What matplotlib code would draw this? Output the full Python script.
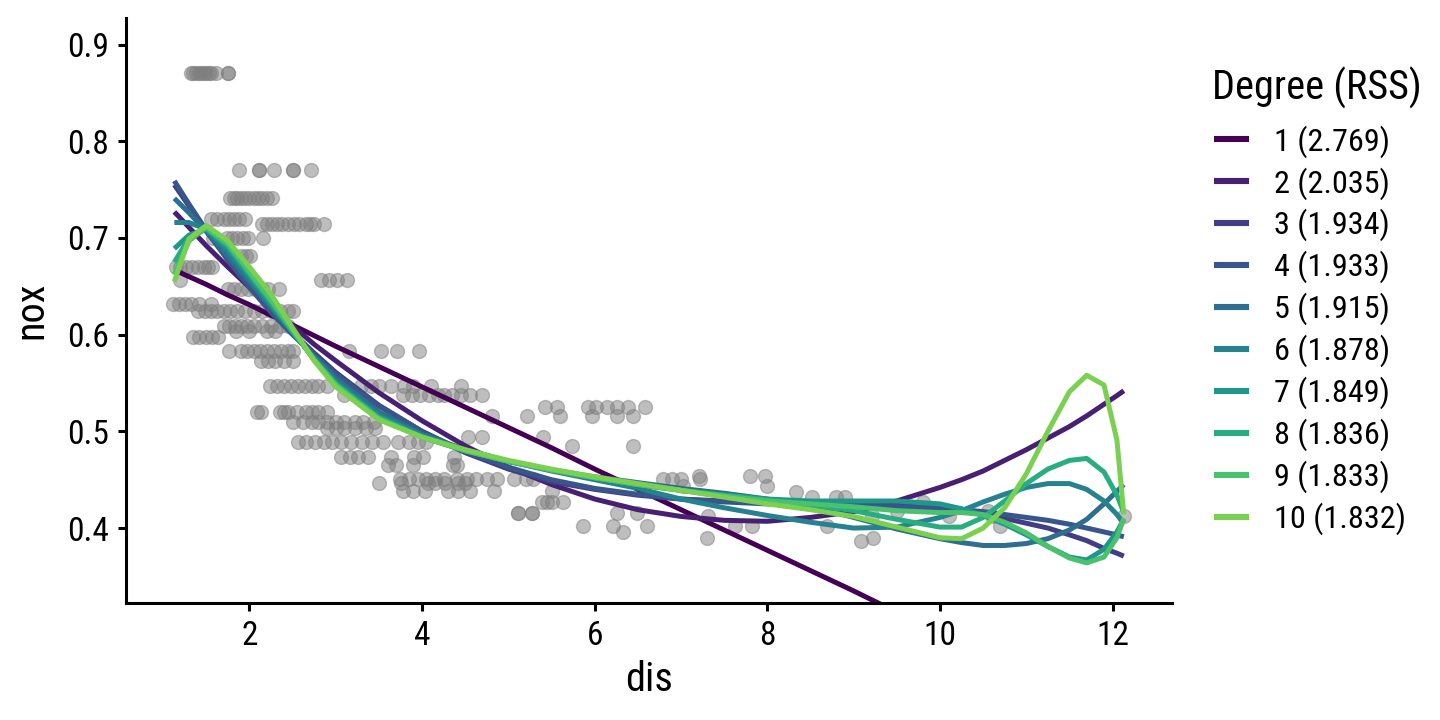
import matplotlib
matplotlib.use("Agg")
import matplotlib.pyplot as plt
from matplotlib import font_manager
import numpy as np

# ---------------------------------------------------------------- data ----
# scatter: nox rows (Boston data) and their dis values
row_nox = [0.871, 0.770, 0.741, 0.720, 0.714, 0.700, 0.681, 0.670, 0.657,
           0.647, 0.632, 0.624, 0.609, 0.604, 0.598, 0.583, 0.573, 0.547,
           0.538, 0.525, 0.520, 0.516, 0.510, 0.503, 0.494, 0.489, 0.485,
           0.473, 0.465, 0.451, 0.447, 0.438, 0.454, 0.444, 0.437, 0.432,
           0.427, 0.416, 0.412, 0.418, 0.402, 0.396, 0.390, 0.387]
row_dis = [
    [1.32, 1.35, 1.38, 1.41, 1.44, 1.47, 1.50, 1.53, 1.56, 1.61, 1.75, 1.75],
    [1.88, 2.11, 2.11, 2.28, 2.50, 2.50, 2.71],
    [1.78, 1.82, 1.86, 1.90, 1.95, 2.00, 2.05, 2.10, 2.14, 2.20, 2.26],
    [1.55, 1.62, 1.70, 1.76, 1.82, 1.88, 1.95],
    [2.14, 2.20, 2.26, 2.32, 2.38, 2.45, 2.52, 2.58, 2.65, 2.70, 2.75, 2.86],
    [1.58, 1.74, 1.80, 1.86, 1.92, 1.98, 2.16],
    [1.90, 1.96, 2.01],
    [1.15, 1.20, 1.27, 1.33, 1.40, 1.47, 1.52, 1.57],
    [1.20, 2.83, 2.92, 3.02, 3.13],
    [1.75, 1.82, 1.90, 1.98, 2.06, 2.14, 2.22, 2.34],
    [1.12, 1.18, 1.25, 1.32, 1.42, 1.55],
    [1.40, 1.48, 1.55, 1.62, 1.70, 1.78, 1.86, 1.95, 2.05, 2.15, 2.25, 2.35,
     2.45, 2.51],
    [1.70, 1.76, 1.83, 1.90, 1.97, 2.05, 2.15, 2.25, 2.35, 2.45],
    [1.85, 2.00, 2.20, 2.30],
    [1.35, 1.42, 1.50, 1.57, 1.64],
    [1.76, 1.90, 1.97, 2.05, 2.12, 2.20, 2.28, 2.36, 2.45, 2.51, 3.15, 3.53,
     3.71, 3.97],
    [2.13, 2.22, 2.30, 2.40, 2.50],
    [2.24, 2.32, 2.40, 2.48, 2.56, 2.64, 2.72, 2.80, 2.90, 3.29, 3.41, 3.50,
     3.64, 3.79, 3.90, 4.10, 4.45],
    [3.09, 3.78, 3.88, 3.98, 4.08, 4.18, 4.25, 4.35, 4.45, 4.55, 4.70],
    [5.42, 5.56, 5.92, 6.02, 6.14, 6.26, 6.38, 6.58],
    [2.09, 2.13, 2.35, 2.40, 2.45, 2.55, 2.65, 2.72, 2.80, 2.90],
    [4.81, 5.21, 5.60, 5.97, 6.26, 6.44],
    [2.51, 2.62, 2.72, 2.80, 2.90, 3.00, 3.10, 3.22, 3.32, 3.44],
    [2.90, 3.00, 3.10, 3.22, 3.35, 3.45],
    [4.53, 4.70, 5.40],
    [2.56, 2.66, 2.76, 2.86, 2.96, 3.06, 3.18, 3.30, 3.42, 3.55, 3.72, 3.85,
     3.95, 4.05],
    [5.74, 6.44],
    [3.06, 3.16, 3.26, 3.37, 3.64, 3.91, 4.01, 4.37],
    [3.60, 3.70, 3.89, 4.36, 4.41],
    [3.74, 3.85, 3.95, 4.05, 4.15, 4.25, 4.40, 4.52, 4.62, 4.75, 4.87, 5.07,
     5.20, 5.28, 6.79, 6.90, 7.00, 7.22],
    [3.50, 3.76, 4.07, 4.15, 4.26, 4.42, 4.50],
    [3.78, 3.90, 4.03, 4.30, 4.42, 4.55, 4.83, 5.50],
    [7.21, 7.80, 7.97],
    [7.02, 8.00],
    [8.33],
    [8.52, 8.79, 8.90],
    [5.39, 5.45, 5.50, 5.63, 9.80],
    [5.11, 5.11, 5.27, 5.27, 6.26, 6.49],
    [7.31, 9.21, 10.10, 10.60, 12.13],
    [10.56, 9.50],
    [5.86, 6.21, 6.61, 7.63, 7.82, 8.69, 10.70],
    [6.33],
    [7.30, 9.22],
    [9.08],
]

# fitted curves, read at these dis values
fit_dis = [1.13, 1.3, 1.5, 1.75, 2.0, 2.25, 2.5, 2.75, 3.0, 3.5, 4.0, 4.5,
           5.0, 5.5, 6.0, 6.5, 7.0, 7.5, 8.0, 8.5, 9.0, 9.5, 10.0, 10.25,
           10.5, 10.75, 11.0, 11.25, 11.5, 11.7, 11.9, 12.05, 12.13]

deg1 = [0.667, 0.660, 0.652, 0.641, 0.631, 0.620, 0.610, 0.599, 0.588, 0.567,
        0.546, 0.525, 0.504, 0.483, 0.461, 0.440, 0.419, 0.398, 0.377, 0.356,
        0.335, 0.313, 0.292, 0.282, 0.271, 0.261, 0.250, 0.239, 0.229, 0.220,
        0.212, 0.206, 0.202]
deg2 = [0.727, 0.711, 0.692, 0.670, 0.649, 0.628, 0.609, 0.590, 0.573, 0.540,
        0.511, 0.485, 0.463, 0.445, 0.430, 0.419, 0.412, 0.408, 0.407, 0.411,
        0.417, 0.428, 0.442, 0.450, 0.459, 0.470, 0.481, 0.493, 0.505, 0.516,
        0.528, 0.537, 0.542]
deg3 = [0.755, 0.733, 0.707, 0.678, 0.651, 0.625, 0.602, 0.581, 0.561, 0.527,
        0.500, 0.478, 0.461, 0.448, 0.440, 0.434, 0.430, 0.428, 0.427, 0.426,
        0.426, 0.424, 0.420, 0.418, 0.414, 0.410, 0.405, 0.400, 0.393, 0.387,
        0.379, 0.374, 0.371]
deg4 = [0.759, 0.735, 0.708, 0.677, 0.649, 0.623, 0.600, 0.579, 0.559, 0.526,
        0.500, 0.479, 0.463, 0.450, 0.441, 0.435, 0.430, 0.427, 0.425, 0.424,
        0.423, 0.422, 0.421, 0.419, 0.417, 0.414, 0.411, 0.408, 0.404, 0.400,
        0.396, 0.393, 0.391]
deg5 = [0.741, 0.726, 0.707, 0.681, 0.655, 0.628, 0.602, 0.578, 0.555, 0.520,
        0.497, 0.481, 0.469, 0.460, 0.453, 0.447, 0.441, 0.436, 0.430, 0.422,
        0.411, 0.399, 0.389, 0.385, 0.382, 0.382, 0.384, 0.389, 0.398, 0.409,
        0.425, 0.438, 0.445]
deg6 = [0.716, 0.716, 0.709, 0.686, 0.658, 0.630, 0.602, 0.576, 0.552, 0.517,
        0.496, 0.481, 0.469, 0.459, 0.450, 0.441, 0.430, 0.421, 0.413, 0.406,
        0.400, 0.401, 0.411, 0.418, 0.427, 0.435, 0.442, 0.446, 0.446, 0.440,
        0.428, 0.414, 0.405]
deg7 = [0.689, 0.703, 0.709, 0.690, 0.661, 0.632, 0.603, 0.575, 0.550, 0.515,
        0.495, 0.480, 0.469, 0.460, 0.452, 0.445, 0.439, 0.434, 0.430, 0.428,
        0.428, 0.428, 0.425, 0.420, 0.413, 0.404, 0.393, 0.381, 0.370, 0.367,
        0.378, 0.396, 0.409]
deg8 = [0.675, 0.700, 0.710, 0.692, 0.663, 0.634, 0.604, 0.574, 0.549, 0.514,
        0.494, 0.480, 0.469, 0.460, 0.452, 0.445, 0.439, 0.434, 0.429, 0.424,
        0.418, 0.409, 0.401, 0.401, 0.411, 0.428, 0.446, 0.461, 0.470, 0.472,
        0.458, 0.434, 0.416]
deg9 = [0.662, 0.697, 0.711, 0.694, 0.665, 0.636, 0.605, 0.574, 0.548, 0.513,
        0.494, 0.480, 0.469, 0.460, 0.452, 0.445, 0.439, 0.433, 0.428, 0.425,
        0.422, 0.418, 0.416, 0.416, 0.414, 0.406, 0.395, 0.381, 0.369, 0.364,
        0.370, 0.390, 0.410]
deg10 = [0.655, 0.699, 0.713, 0.697, 0.670, 0.642, 0.607, 0.573, 0.546, 0.512,
         0.494, 0.481, 0.470, 0.461, 0.453, 0.446, 0.439, 0.432, 0.425, 0.419,
         0.412, 0.401, 0.390, 0.389, 0.400, 0.421, 0.456, 0.500, 0.541, 0.558,
         0.548, 0.491, 0.414]

fits = [deg1, deg2, deg3, deg4, deg5, deg6, deg7, deg8, deg9, deg10]
degrees = [1, 2, 3, 4, 5, 6, 7, 8, 9, 10]
rss = ["2.769", "2.035", "1.934", "1.933", "1.915",
       "1.878", "1.849", "1.836", "1.833", "1.832"]

# ---------------------------------------------------------------- font ----
installed = {f.name for f in font_manager.fontManager.ttflist}
family = next((f for f in ["Roboto Condensed", "Liberation Sans Narrow",
                           "Roboto", "DejaVu Sans"] if f in installed))
plt.rcParams["font.family"] = [family, "DejaVu Sans"]

# ---------------------------------------------------------------- plot ----
fig = plt.figure(figsize=(7.2, 3.6), dpi=200)
ax = fig.add_axes([0.0875, 0.1625, 0.7265, 0.8125])

pts_dis = np.concatenate([np.asarray(d) for d in row_dis])
pts_nox = np.concatenate([np.full(len(d), n) for n, d in zip(row_nox, row_dis)])
ax.scatter(pts_dis, pts_nox, s=25, color="#7f7f7f", alpha=0.5,
           edgecolors="#7f7f7f", linewidths=0.5, zorder=1)

colors = plt.cm.viridis(np.linspace(0, 0.8, len(degrees)))
for d, y, r, c in zip(degrees, fits, rss, colors):
    ax.plot(fit_dis, y, color=c, lw=1.8, solid_capstyle="butt",
            solid_joinstyle="round", label=f"{d} ({r})", zorder=2)

ax.set_xlim(0.57, 12.69)
ax.set_ylim(0.3225, 0.9275)
ax.set_xticks([2, 4, 6, 8, 10, 12])
ax.set_yticks([0.4, 0.5, 0.6, 0.7, 0.8, 0.9])
ax.set_yticklabels(["0.4", "0.5", "0.6", "0.7", "0.8", "0.9"])

for side in ["top", "right"]:
    ax.spines[side].set_visible(False)
for side in ["left", "bottom"]:
    ax.spines[side].set_linewidth(1.1)
ax.tick_params(length=3, width=1.1, labelsize=12, colors="black", pad=3)
ax.set_xlabel("dis", fontsize=14.5, labelpad=3)
ax.set_ylabel("nox", fontsize=14.5, labelpad=6)

# legend: title as its own text, entries below it
fig.text(1212 / 1440, 1 - 88 / 720, "Degree (RSS)", fontsize=14.5,
         ha="left", va="center")
leg = ax.legend(loc="upper left", bbox_to_anchor=(1214 / 1440, 1 - 125 / 720),
                bbox_transform=fig.transFigure, frameon=False, fontsize=11.6,
                handlelength=1.1, handletextpad=0.75, labelspacing=0.29,
                borderpad=0, borderaxespad=0)
for line in leg.get_lines():
    line.set_linewidth(2.2)

fig.savefig("out.png", dpi=200)
